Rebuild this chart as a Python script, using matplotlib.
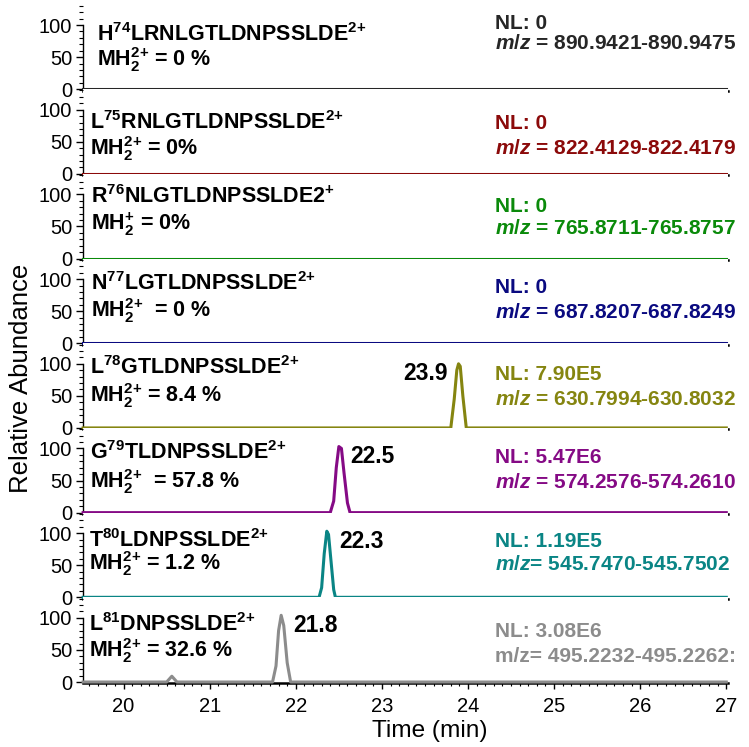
import matplotlib
matplotlib.use("Agg")
import matplotlib.pyplot as plt
from matplotlib.ticker import MultipleLocator

plt.rcParams["font.family"] = "Liberation Sans"
plt.rcParams["mathtext.fontset"] = "custom"
plt.rcParams["mathtext.rm"] = "Liberation Sans:bold"
plt.rcParams["mathtext.bf"] = "Liberation Sans:bold"
plt.rcParams["mathtext.it"] = "Liberation Sans:italic:bold"

# --- data ---
peptides = [
    "H$^{74}$LRNLGTLDNPSSLDE$^{2{+}}$",
    "L$^{75}$RNLGTLDNPSSLDE$^{2{+}}$",
    "R$^{76}$NLGTLDNPSSLDE2$^{{+}}$",
    "N$^{77}$LGTLDNPSSLDE$^{2{+}}$",
    "L$^{78}$GTLDNPSSLDE$^{2{+}}$",
    "G$^{79}$TLDNPSSLDE$^{2{+}}$",
    "T$^{80}$LDNPSSLDE$^{2{+}}$",
    "L$^{81}$DNPSSLDE$^{2{+}}$",
]
mh_labels = [
    "MH$_2^{2{+}}$ = 0 %",
    "MH$_2^{2{+}}$ = 0%",
    "MH$_2^{{+}}$ = 0%",
    "MH$_2^{2{+}}$  = 0 %",
    "MH$_2^{2{+}}$ = 8.4 %",
    "MH$_2^{2{+}}$  = 57.8 %",
    "MH$_2^{2{+}}$ = 1.2 %",
    "MH$_2^{2{+}}$ = 32.6 %",
]
nl_values = ["0", "0", "0", "0", "7.90E5", "5.47E6", "1.19E5", "3.08E6"]
mz_labels = [
    "$m/z$ = 890.9421-890.9475",
    "$m/z$ = 822.4129-822.4179",
    "$m/z$ = 765.8711-765.8757",
    "$m/z$ = 687.8207-687.8249",
    "$m/z$ = 630.7994-630.8032",
    "$m/z$ = 574.2576-574.2610",
    "$m/z$= 545.7470-545.7502",
    "m/z= 495.2232-495.2262:",
]
peak_labels = [None, None, None, None, "23.9", "22.5", "22.3", "21.8"]
colors = ["#262626", "#8b0a0a", "#0a8a0a", "#0a0a80",
          "#858510", "#850a85", "#0a8585", "#8c8c8c"]

t_h74 = [19.53, 27.0]
i_h74 = [0, 0]
t_l75 = [19.53, 27.0]
i_l75 = [0, 0]
t_r76 = [19.53, 27.0]
i_r76 = [0, 0]
t_n77 = [19.53, 27.0]
i_n77 = [0, 0]
t_l78 = [19.53, 23.80, 23.84, 23.87, 23.89, 23.91, 23.94, 23.98, 27.0]
i_l78 = [0, 0, 45, 90, 100, 96, 50, 0, 0]
t_g79 = [19.53, 22.40, 22.44, 22.47, 22.50, 22.53, 22.56, 22.60, 22.63, 27.0]
i_g79 = [0, 0, 18, 70, 103, 100, 62, 15, 0, 0]
t_t80 = [19.53, 22.27, 22.30, 22.33, 22.36, 22.38, 22.41, 22.44, 22.46, 27.0]
i_t80 = [0, 0, 15, 68, 103, 98, 55, 12, 0, 0]
t_l81 = [19.53, 20.50, 20.56, 20.62, 21.73, 21.77, 21.80, 21.83, 21.86, 21.90, 21.94, 27.0]
i_l81 = [0, 0, 9, 0, 0, 25, 80, 104, 88, 30, 0, 0]

times = [t_h74, t_l75, t_r76, t_n77, t_l78, t_g79, t_t80, t_l81]
intens = [i_h74, i_l75, i_r76, i_n77, i_l78, i_g79, i_t80, i_l81]

# --- text placement (data units of each panel) ---
pep_x = [19.69, 19.61, 19.62, 19.62, 19.61, 19.61, 19.60, 19.60]
pep_y = [75, 70, 86, 83, 84, 83, 78, 79]
mh_y = [36, 30, 44, 41, 41, 39, 42, 39]
nl_y = [94, 70, 72, 78, 75, 78, 78, 70]
mz_y = [62, 31, 39, 39, 36, 39, 42, 31]
peak_pos = [None, None, None, None, (23.76, 75, "right"), (22.63, 77, "left"),
            (22.51, 77, "left"), (21.97, 78, "left")]

fig, axes = plt.subplots(8, 1, figsize=(7.49, 7.47), dpi=100, sharex=True,
                         gridspec_kw={"hspace": 0})
fig.subplots_adjust(left=0.111, right=0.972, bottom=0.087, top=0.994)

for k, ax in enumerate(axes):
    ax.plot(times[k], intens[k], color=colors[k], lw=2.2, zorder=3,
            solid_joinstyle="round", clip_on=False)
    ax.set_xlim(19.53, 27.02)
    ax.set_ylim(0, 132)
    for s in ["top", "right"]:
        ax.spines[s].set_visible(False)
    ax.spines["left"].set_bounds(0, 100)
    ax.spines["bottom"].set_position(("outward", 1))
    ax.spines["bottom"].set_linewidth(1.8)
    ax.spines["left"].set_linewidth(1.0)
    ax.set_yticks([0, 50, 100])
    ax.yaxis.set_minor_locator(MultipleLocator(10))
    ax.tick_params(axis="y", which="major", direction="out", length=5,
                   width=1, pad=3, labelsize=14.5)
    ax.tick_params(axis="y", which="minor", direction="out", length=2.8, width=0.8)

    ax.text(pep_x[k], pep_y[k], peptides[k], fontsize=15.5, fontweight="bold",
            va="baseline", ha="left")
    ax.text(pep_x[k], mh_y[k], mh_labels[k], fontsize=15.5, fontweight="bold",
            va="baseline", ha="left")
    ax.text(24.31, nl_y[k], "NL: " + nl_values[k], fontsize=15,
            fontweight="bold", color=colors[k], va="baseline", ha="left")
    ax.text(24.31, mz_y[k], mz_labels[k], fontsize=15, fontweight="bold",
            color=colors[k], va="baseline", ha="left")
    if peak_labels[k]:
        px, py, pha = peak_pos[k]
        ax.text(px, py, peak_labels[k], fontsize=16.5, fontweight="bold",
                va="baseline", ha=pha)

    if k < 7:
        ax.tick_params(axis="x", which="both", bottom=False, labelbottom=False)

bottom = axes[-1]
bottom.set_xticks(range(20, 28))
bottom.xaxis.set_minor_locator(MultipleLocator(0.1))
bottom.tick_params(axis="x", which="major", direction="out", length=4.5,
                   width=1, pad=5, labelsize=14.5)
bottom.tick_params(axis="x", which="minor", direction="out", length=2.5, width=0.8)

fig.text(0.028, 1 - 378 / 747, "Relative Abundance", rotation=90,
         fontsize=18.5, ha="center", va="center")
fig.text(0.574, 1 - 737 / 747, "Time (min)", fontsize=17.6, ha="center",
         va="baseline")

fig.savefig("out.png", dpi=100)
